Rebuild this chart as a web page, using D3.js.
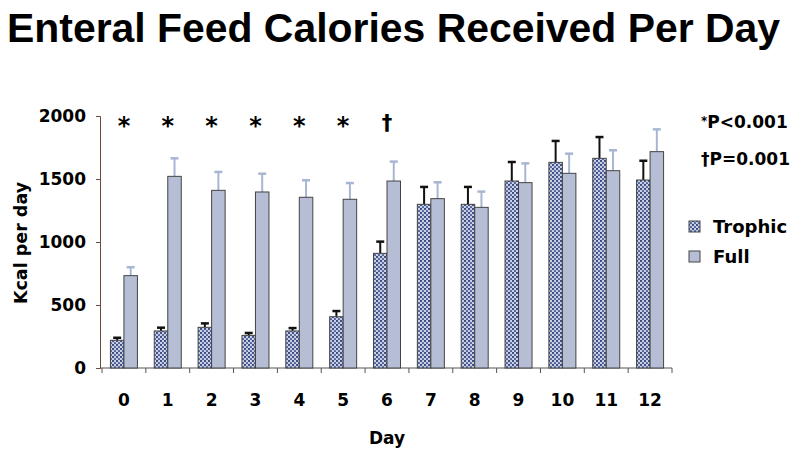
<!DOCTYPE html>
<html><head><meta charset="utf-8">
<script src="https://cdn.jsdelivr.net/npm/d3@7"></script>
<style>body{margin:0;background:#fff}svg{display:block}text{font-family:"DejaVu Sans",sans-serif;font-weight:bold}</style>
</head><body><svg id="c" width="800" height="454"></svg>
<script>
const days = ["0","1","2","3","4","5","6","7","8","9","10","11","12"];
const trophic = [220, 294, 323, 259, 294, 407, 910, 1299, 1299, 1484, 1632, 1664, 1492];
const trophicErr = [20, 26, 31, 19, 23, 45, 93, 138, 138, 151, 170, 169, 153];
const full = [733, 1521, 1410, 1397, 1355, 1339, 1484, 1344, 1275, 1471, 1545, 1566, 1717];
const fullErr = [67, 143, 146, 145, 135, 129, 154, 130, 125, 153, 156, 162, 177];
const marks = ["*","*","*","*","*","*","†","","","","","",""];
const yTicks = [0, 500, 1000, 1500, 2000];

const svg = d3.select("#c");
const defs = svg.append("defs");
const pat = defs.append("pattern").attr("id","dots").attr("patternUnits","userSpaceOnUse")
  .attr("width",4).attr("height",4);
pat.append("rect").attr("width",4).attr("height",4).attr("fill","#c9d1e4");
pat.append("circle").attr("cx",1).attr("cy",1).attr("r",1.1).attr("fill","#33407a");
pat.append("circle").attr("cx",3).attr("cy",3).attr("r",1.1).attr("fill","#4a5a98");

const x0 = d3.scaleBand().domain(days).range([102, 672]).paddingInner(0).paddingOuter(0);
const y = d3.scaleLinear().domain([0, 2000]).range([368, 116]);
const bw = 13.5;

svg.append("text").attr("x",7).attr("y",42).attr("font-size",40)
  .style("font-family","'Liberation Sans',Arial,sans-serif")
  .attr("textLength",773).attr("lengthAdjust","spacingAndGlyphs")
  .text("Enteral Feed Calories Received Per Day");

// y axis
const ya = svg.append("g").attr("transform","translate(100,0)")
  .call(d3.axisLeft(y).tickValues(yTicks).tickSize(4).tickPadding(10).tickFormat(d3.format("d")));
ya.select(".domain").attr("stroke","#6b4a3a");
ya.selectAll(".tick line").attr("stroke","#6b4a3a");
ya.selectAll(".tick text").attr("font-size",17).attr("fill","#000")
  .style("font-family","'DejaVu Sans',sans-serif").style("font-weight","bold");

// x axis
const xa = svg.append("g").attr("transform","translate(0,368)")
  .call(d3.axisBottom(x0).tickSize(0).tickPadding(26));
xa.select(".domain").attr("d","M100,0H672").attr("stroke","#555");
xa.selectAll(".tick text").attr("font-size",17).attr("fill","#000")
  .style("font-family","'DejaVu Sans',sans-serif").style("font-weight","bold");
const bounds = days.map(d => x0(d)).concat([x0(days[days.length-1]) + x0.bandwidth()]);
svg.append("g").selectAll("line").data(bounds).join("line")
  .attr("x1",d=>d).attr("x2",d=>d).attr("y1",368).attr("y2",373).attr("stroke","#555");

// bars
const g = svg.append("g");
days.forEach((d,i)=>{
  const c = x0(d) + x0.bandwidth()/2;
  const eb = (cx, v, e, col) => {
    g.append("line").attr("x1",cx).attr("x2",cx).attr("y1",y(v)).attr("y2",y(v+e)).attr("stroke",col).attr("stroke-width",2);
    g.append("line").attr("x1",cx-4).attr("x2",cx+4).attr("y1",y(v+e)).attr("y2",y(v+e)).attr("stroke",col).attr("stroke-width",2.5);
  };
  eb(c - bw/2, trophic[i], trophicErr[i], "#111");
  eb(c + bw/2, full[i], fullErr[i], "#a8b6d2");
  g.append("rect").attr("x",c-bw).attr("y",y(trophic[i])).attr("width",bw).attr("height",y(0)-y(trophic[i]))
    .attr("fill","url(#dots)").attr("stroke","#444").attr("stroke-width",1);
  g.append("rect").attr("x",c).attr("y",y(full[i])).attr("width",bw).attr("height",y(0)-y(full[i]))
    .attr("fill","#b5bed5").attr("stroke","#444").attr("stroke-width",1);
  if (marks[i]) {
    svg.append("text").attr("x",c).attr("y", marks[i]==="*"?134:130).attr("text-anchor","middle")
      .attr("font-size", marks[i]==="*"?24:21).text(marks[i]);
  }
});

// significance notes
svg.append("text").attr("x",701).attr("y",128).attr("font-size",17)
  .html('<tspan font-size="12" dy="-3">*</tspan><tspan dy="3">P&lt;0.001</tspan>');
svg.append("text").attr("x",701).attr("y",165).attr("font-size",17).text("†P=0.001");

// legend
const leg = [["Trophic","url(#dots)"],["Full","#b5bed5"]];
leg.forEach((l,i)=>{
  const yy = 221 + i*30;
  svg.append("rect").attr("x",689).attr("y",yy).attr("width",11).attr("height",11)
    .attr("fill",l[1]).attr("stroke","#444");
  svg.append("text").attr("x",713).attr("y",yy+12).attr("font-size",18).text(l[0]);
});

// axis titles
svg.append("text").attr("transform","translate(27,243) rotate(-90)").attr("text-anchor","middle")
  .attr("font-size",17.5).text("Kcal per day");
svg.append("text").attr("x",387).attr("y",444).attr("text-anchor","middle").attr("font-size",17).text("Day");
</script></body></html>
